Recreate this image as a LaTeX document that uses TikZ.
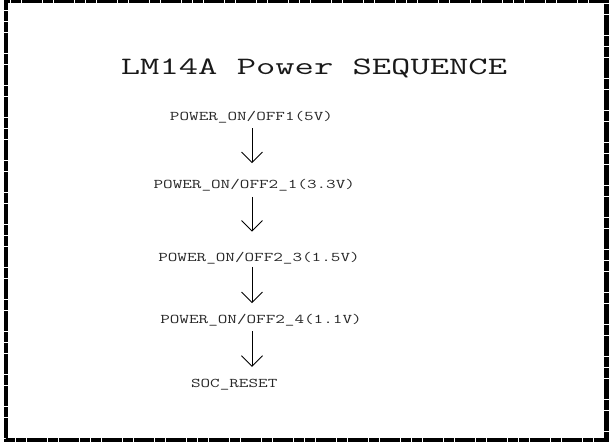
\documentclass[tikz,border=0pt]{standalone}
\usepackage{graphicx}
\usetikzlibrary{arrows.meta,positioning}
\newcommand{\wide}[2]{\scalebox{#1}[1]{#2}}

\begin{document}
\begin{tikzpicture}[x=1pt,y=-1pt,
  head/.style={font=\fontsize{25}{30}\selectfont\ttfamily,inner sep=0pt,anchor=base,text=black!90},
  rail/.style={font=\fontsize{13.3}{16}\selectfont\ttfamily,inner sep=0pt,anchor=base,text=black!85,text height=8.3pt,text depth=0pt},
  seq/.style={-{Straight Barb[length=10.5pt,width=21pt]},line width=0.8pt}]
\useasboundingbox (0,0) rectangle (611,446);
\draw[line width=4.2pt,dash pattern=on 10pt off 0.7pt] (6,0.5) rectangle (606.5,440);
\node[head] (title) at (314,75) {\wide{1.5}{LM14A Power SEQUENCE}};
\node[rail] (l1) at (251.5,120.3) {\wide{1.4}{POWER\_ON/OFF1(5V)}};
\node[rail] (l2) at (254.3,188.3) {\wide{1.4}{POWER\_ON/OFF2\_1(3.3V)}};
\node[rail] (l3) at (259,261.7) {\wide{1.4}{POWER\_ON/OFF2\_3(1.5V)}};
\node[rail] (l4) at (261,324) {\wide{1.4}{POWER\_ON/OFF2\_4(1.1V)}};
\node[rail] (l5) at (234.2,387.3) {\wide{1.4}{SOC\_RESET}};
\coordinate (axis) at (252,0);
\foreach \from/\to/\s/\e in {l1/l2/7.7pt/16.7pt,l2/l3/8.4pt/21.6pt,l3/l4/5pt/12.4pt,l4/l5/7pt/12pt}
  \draw[seq,shorten <=\s,shorten >=\e] (\from.south -| axis) -- (\to.north -| axis);
\end{tikzpicture}
\end{document}
